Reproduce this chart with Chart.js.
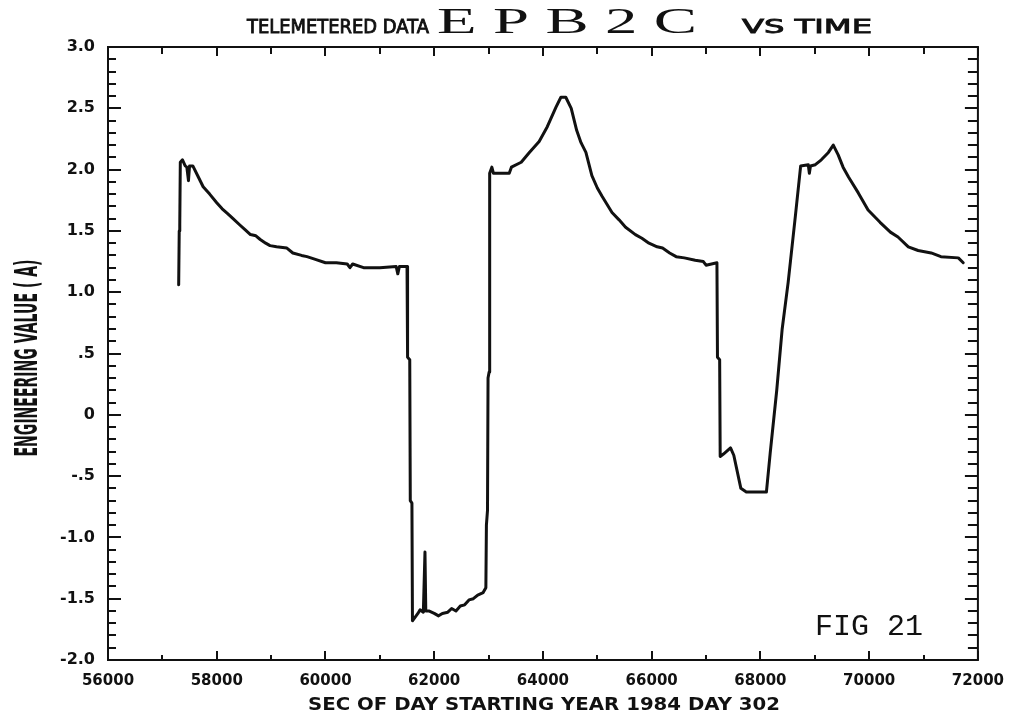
<!DOCTYPE html>
<html>
<head>
<meta charset="utf-8">
<title>EPB2C vs time</title>
<script src="https://cdn.jsdelivr.net/npm/chart.js@4/dist/chart.umd.min.js"></script>
<style>
  html, body { margin: 0; padding: 0; background: #fff; }
  #wrap { width: 1016px; height: 716px; }
</style>
</head>
<body>
<div id="wrap"><canvas id="epb" width="1016" height="716"></canvas></div>
<script>
// sample times (sec of day) and telemetered values (A)
const times = [
  57300, 57310, 57320, 57330, 57370, 57420, 57450, 57480, 57500, 57560,
  57650, 57750, 57870, 58000, 58100, 58200, 58300, 58420, 58520, 58620,
  58720, 58800, 58900, 58980, 59100, 59290, 59400, 59560, 59660, 59800,
  60000, 60200, 60400, 60450, 60500, 60700, 61000, 61300, 61330, 61360,
  61500, 61510, 61550, 61560, 61590, 61600, 61700, 61740, 61800, 61830,
  61845, 61900, 62000, 62080, 62150, 62250, 62320, 62400, 62480, 62560,
  62640, 62720, 62800, 62900, 62950, 62960, 62980, 62990, 63010, 63020,
  63060, 63090, 63380, 63420, 63600, 63750, 63930, 64080, 64240, 64330,
  64420, 64520, 64620, 64700, 64790, 64900, 65000, 65090, 65270, 65400,
  65520, 65700, 65820, 65950, 66100, 66200, 66330, 66450, 66600, 66800,
  66950, 67000, 67200, 67210, 67250, 67260, 67320, 67450, 67510, 67640,
  67740, 68110, 68180, 68300, 68400, 68510, 68640, 68740, 68880, 68900,
  68920, 69010, 69120, 69250, 69340, 69430, 69520, 69620, 69800, 69980,
  70200, 70390, 70530, 70720, 70900, 71140, 71320, 71640, 71730
];
const values = [
  1.06, 1.50, 1.55, 2.06, 2.08, 2.03, 2.02, 1.91, 2.03, 2.03,
  1.95, 1.86, 1.80, 1.73, 1.68, 1.64, 1.60, 1.55, 1.51, 1.47,
  1.46, 1.43, 1.40, 1.38, 1.37, 1.36, 1.32, 1.30, 1.29, 1.27,
  1.24, 1.24, 1.23, 1.20, 1.23, 1.20, 1.20, 1.21, 1.15, 1.21,
  1.21, 0.47, 0.45, -0.70, -0.72, -1.68, -1.62, -1.59, -1.61, -1.12,
  -1.60, -1.60, -1.62, -1.64, -1.62, -1.61, -1.58, -1.60, -1.56, -1.55,
  -1.51, -1.50, -1.47, -1.45, -1.41, -0.90, -0.78, 0.30, 0.35, 1.97,
  2.02, 1.97, 1.97, 2.02, 2.06, 2.14, 2.23, 2.35, 2.51, 2.59,
  2.59, 2.50, 2.32, 2.22, 2.14, 1.95, 1.85, 1.78, 1.65, 1.59,
  1.53, 1.47, 1.44, 1.40, 1.37, 1.36, 1.32, 1.29, 1.28, 1.26,
  1.25, 1.22, 1.24, 0.47, 0.45, -0.34, -0.32, -0.27, -0.33, -0.60,
  -0.63, -0.63, -0.31, 0.20, 0.70, 1.08, 1.61, 2.03, 2.04, 1.97,
  2.03, 2.04, 2.08, 2.14, 2.20, 2.12, 2.02, 1.94, 1.81, 1.67,
  1.57, 1.49, 1.45, 1.37, 1.34, 1.32, 1.29, 1.28, 1.24
];

// axis tick labels
const yTickValues = [-2, -1.5, -1, -0.5, 0, 0.5, 1, 1.5, 2, 2.5, 3];
const yTickLabels = ['-2.0', '-1.5', '-1.0', '-.5', '0', '.5', '1.0', '1.5', '2.0', '2.5', '3.0'];

const titleLeft = 'TELEMETERED DATA';
const titleName = 'EPB2C';
const titleRight = 'VS TIME';
const xTitle = 'SEC OF DAY STARTING YEAR 1984 DAY 302';
const yTitle = 'ENGINEERING VALUE ( A)';
const figLabel = 'FIG 21';

const points = times.map((t, i) => ({ x: t, y: values[i] }));

// draw text squeezed/stretched to a given width, optionally outlined to thicken strokes
function fitText(ctx, text, x, y, width, font, outline) {
  ctx.save();
  ctx.font = font;
  ctx.textAlign = 'left';
  ctx.textBaseline = 'alphabetic';
  const w = ctx.measureText(text).width;
  ctx.translate(x, y);
  ctx.scale(width / w, 1);
  ctx.fillText(text, 0, 0);
  if (outline) {
    ctx.lineWidth = outline;
    ctx.strokeText(text, 0, 0);
  }
  ctx.restore();
}

// spread letters evenly over a width
function spreadText(ctx, text, x, y, width, font, stretch) {
  ctx.save();
  ctx.font = font;
  ctx.textBaseline = 'alphabetic';
  const ws = [...text].map(c => ctx.measureText(c).width * stretch);
  const total = ws.reduce((a, b) => a + b, 0);
  const gap = (width - total) / (text.length - 1);
  let cx = x;
  [...text].forEach((c, i) => {
    ctx.save();
    ctx.translate(cx, y);
    ctx.scale(stretch, 1);
    ctx.fillText(c, 0, 0);
    ctx.restore();
    cx += ws[i] + gap;
  });
  ctx.restore();
}

const framePlugin = {
  id: 'frame',
  afterDraw(chart) {
    const { ctx, chartArea: a, scales } = chart;
    const xs = scales.x, ys = scales.y;
    ctx.save();
    ctx.strokeStyle = '#111';
    ctx.fillStyle = '#111';
    ctx.lineWidth = 2;
    ctx.strokeRect(a.left, a.top, a.right - a.left, a.bottom - a.top);

    // x ticks, every 1000 s, top and bottom
    ctx.beginPath();
    for (let v = xs.min; v <= xs.max; v += 1000) {
      const px = Math.round(xs.getPixelForValue(v));
      const major = v % 2000 === 0;
      ctx.moveTo(px, a.bottom);
      ctx.lineTo(px, a.bottom - (major ? 9 : 5));
      ctx.moveTo(px, a.top);
      ctx.lineTo(px, a.top + (major ? 9 : 7));
    }
    // y ticks, every 0.1, left and right
    for (let k = 0; k <= 50; k++) {
      const v = ys.min + k * 0.1;
      const py = Math.round(ys.getPixelForValue(v));
      const major = k % 5 === 0;
      ctx.moveTo(a.left, py);
      ctx.lineTo(a.left + (major ? 13 : 8), py);
      ctx.moveTo(a.right, py);
      ctx.lineTo(a.right - (major ? 13 : 10), py);
    }
    ctx.stroke();

    // title
    fitText(ctx, titleLeft, 247, 33, 182, '19px "DejaVu Sans"', 0.9);
    spreadText(ctx, titleName, 437, 33, 260, '36px "Liberation Serif"', 1.8);
    fitText(ctx, titleRight, 742, 33, 130, '20px "DejaVu Sans"', 0.9);

    // axis titles
    fitText(ctx, xTitle, 308, 710, 472, 'bold 18px "DejaVu Sans"');
    ctx.save();
    ctx.translate(37, 358);
    ctx.rotate(-Math.PI / 2);
    ctx.font = 'bold 32px "DejaVu Sans"';
    const w = ctx.measureText(yTitle).width;
    ctx.scale(197 / w, 1);
    ctx.textAlign = 'center';
    ctx.fillText(yTitle, 0, 0);
    ctx.restore();

    fitText(ctx, figLabel, 815, 635, 108, '29px "Liberation Mono"');
    ctx.restore();
  }
};

new Chart(document.getElementById('epb'), {
  type: 'line',
  data: {
    datasets: [{
      data: points,
      borderColor: '#111',
      borderWidth: 3,
      borderJoinStyle: 'round',
      borderCapStyle: 'round',
      pointRadius: 0,
      tension: 0,
      fill: false
    }]
  },
  options: {
    responsive: false,
    animation: false,
    devicePixelRatio: 1,
    layout: { padding: { top: 47, right: 36, left: 0, bottom: 0 } },
    plugins: { legend: { display: false }, tooltip: { enabled: false } },
    scales: {
      x: {
        type: 'linear',
        min: 56000,
        max: 72000,
        grid: { display: false, drawTicks: false },
        border: { display: false },
        ticks: {
          stepSize: 2000,
          padding: 12,
          color: '#111',
          font: { family: 'DejaVu Sans', size: 15, weight: 'bold' },
          maxRotation: 0,
          callback: v => String(v)
        },
        afterFit: s => { s.height = 56; }
      },
      y: {
        min: -2,
        max: 3,
        grid: { display: false, drawTicks: false },
        border: { display: false },
        ticks: {
          stepSize: 0.5,
          padding: 13,
          color: '#111',
          font: { family: 'DejaVu Sans', size: 16, weight: 'bold' },
          callback: v => {
            const i = yTickValues.findIndex(t => Math.abs(t - v) < 1e-6);
            return i < 0 ? '' : yTickLabels[i];
          }
        },
        afterFit: s => { s.width = 108; }
      }
    }
  },
  plugins: [framePlugin]
});
</script>
</body>
</html>
